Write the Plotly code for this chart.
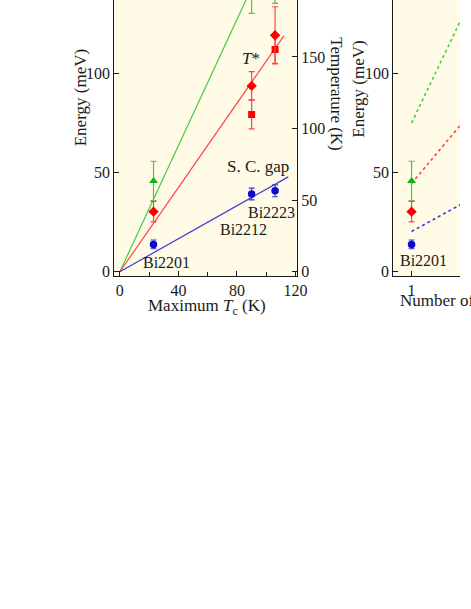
import plotly.graph_objects as go

# --- data ---
compounds = ["Bi2201", "Bi2212", "Bi2223"]
tc_max = [23, 90, 106]                      # K
sc_gap = [13.8, 39.2, 40.8]                 # meV
sc_gap_err = [2.2, 3.0, 3.0]
tstar_diamond = [30.3, 93.7, 119.2]
tstar_diamond_err = [5.2, 7.2, 14.4]
tstar_square_tc = [90, 106]
tstar_square = [79.3, 112.0]
tstar_square_err = [7.3, 7.0]
green_energy = [45.7, 140.3, 145.3]
green_err = [10.0, 10.0, 10.0]

# straight lines through the origin (meV per K)
fit_tc = [0, 115]
slope_green, slope_red, slope_blue = 1.59, 1.062, 0.416
red_end_tc = 112

# right panel: vs. number of layers
n_layers = [1]
n_line = [1, 3]
green_dotted = [75.0, 229.0]
red_dotted = [44.5, 132.5]
blue_dotted = [20.3, 60.7]

k_per_mev = 1.385  # temperature axis scale (K per meV)

GREEN_L, GREEN_M = "#44cc44", "#11b311"
RED_L, RED_M = "#ff4444", "#ff0000"
BLUE_L, BLUE_M = "#3a3ad6", "#0a0acc"
BG = "#fffbe6"
FONT = "Liberation Serif, Times New Roman, serif"
INK = "#1a1a1a"

W, H = 471, 609


def px_x(p):
    return p / W


def px_y(p):
    return 1 - p / H


fig = go.Figure()

# left panel: lines
fig.add_trace(go.Scatter(x=fit_tc, y=[t * slope_green for t in fit_tc], mode="lines",
                         line=dict(color=GREEN_L, width=1.2), xaxis="x", yaxis="y"))
fig.add_trace(go.Scatter(x=[0, red_end_tc], y=[0, red_end_tc * slope_red], mode="lines",
                         line=dict(color=RED_L, width=1.2), xaxis="x", yaxis="y"))
fig.add_trace(go.Scatter(x=fit_tc, y=[t * slope_blue for t in fit_tc], mode="lines",
                         line=dict(color=BLUE_L, width=1.2), xaxis="x", yaxis="y"))


def points(x, y, err, sym, size, col, ecol, xa="x", ya="y"):
    return go.Scatter(x=x, y=y, mode="markers", xaxis=xa, yaxis=ya,
                      marker=dict(symbol=sym, size=size, color=col, line=dict(width=0)),
                      error_y=dict(type="data", array=err, color=ecol, thickness=1.2, width=3))


fig.add_trace(points(tc_max, green_energy, green_err, "triangle-up", 8, GREEN_M, GREEN_L))
fig.add_trace(points(tstar_square_tc, tstar_square, tstar_square_err, "square", 7, RED_M, RED_L))
fig.add_trace(points(tc_max, tstar_diamond, tstar_diamond_err, "diamond", 8, RED_M, RED_L))
fig.add_trace(points(tc_max, sc_gap, sc_gap_err, "circle", 7.5, BLUE_M, BLUE_L))

# right panel: dotted lines and Bi2201 points
for vals, col in [(green_dotted, GREEN_L), (red_dotted, RED_L), (blue_dotted, BLUE_L)]:
    fig.add_trace(go.Scatter(x=n_line, y=vals, mode="lines", xaxis="x2", yaxis="y2",
                             line=dict(color=col, width=1.6, dash="dot")))
fig.add_trace(points(n_layers, green_energy[:1], green_err[:1], "triangle-up", 8, GREEN_M, GREEN_L, "x2", "y2"))
fig.add_trace(points(n_layers, tstar_diamond[:1], tstar_diamond_err[:1], "diamond", 8, RED_M, RED_L, "x2", "y2"))
fig.add_trace(points(n_layers, sc_gap[:1], sc_gap_err[:1], "circle", 7.5, BLUE_M, BLUE_L, "x2", "y2"))

axis_style = dict(showline=True, linecolor=INK, linewidth=1.2, ticks="inside", ticklen=5,
                  tickcolor=INK, tickwidth=1, showgrid=False, zeroline=False,
                  tickfont=dict(family=FONT, size=16, color=INK))

e_range = [-2, 137]
y_dom = [px_y(278), 1]

fig.update_layout(
    width=W, height=H, autosize=False, margin=dict(l=0, r=0, t=0, b=0),
    paper_bgcolor="white", plot_bgcolor=BG, showlegend=False,
    xaxis=dict(domain=[px_x(117), px_x(304)], range=[-3.8, 120.9], anchor="y",
               tickvals=[0, 40, 80, 120],
               minor=dict(tickvals=[20, 60, 100], ticks="inside", ticklen=4, tickcolor=INK),
               **axis_style),
    yaxis=dict(domain=y_dom, range=e_range, anchor="x", tickvals=[0, 50, 100], **axis_style),
    yaxis3=dict(overlaying="y", side="right", anchor="x",
                range=[e_range[0] * k_per_mev, e_range[1] * k_per_mev],
                tickvals=[0, 50, 100, 150], **axis_style),
    xaxis2=dict(domain=[px_x(402.7), 1], range=[0.75, 1.663], anchor="y2",
                tickvals=[1], **axis_style),
    yaxis2=dict(domain=y_dom, range=e_range, anchor="x2", tickvals=[0, 50, 100], **axis_style),
)

# invisible trace so the temperature axis is drawn
fig.add_trace(go.Scatter(x=[0], y=[0], mode="markers", marker=dict(opacity=0),
                         xaxis="x", yaxis="y3", hoverinfo="skip"))

tfont = dict(family=FONT, size=17, color=INK)
labels = [
    ("<i>T</i>*", 89.3, 107.5, "x", "y"),
    ("S. C. gap", 94.6, 53.0, "x", "y"),
    ("Bi2201", 32.0, 4.5, "x", "y"),
    ("Bi2212", 84.7, 21.5, "x", "y"),
    ("Bi2223", 103.7, 29.8, "x", "y"),
    ("Bi2201", 1.162, 5.5, "x2", "y2"),
]
for txt, xv, yv, xr, yr in labels:
    fig.add_annotation(text=txt, x=xv, y=yv, xref=xr, yref=yr, showarrow=False,
                       xanchor="center", yanchor="middle",
                       font=dict(family=FONT, size=17 if "gap" in txt or "T" in txt else 16, color=INK))

titles = [
    ("Energy (meV)", px_x(82), px_y(99), -90, "center"),
    ("Temperature (K)", px_x(345), px_y(95), 90, "center"),
    ("Energy (meV)", px_x(367), px_y(90), -90, "center"),
    ("Maximum <i>T</i><sub>c</sub> (K)", px_x(212), px_y(310), 0, "center"),
    ("Number of CuO<sub>2</sub> layers", px_x(408), px_y(305), 0, "left"),
]
for txt, xv, yv, ang, anc in titles:
    fig.add_annotation(text=txt, x=xv, y=yv, xref="paper", yref="paper", showarrow=False,
                       textangle=ang, xanchor=anc, yanchor="middle", font=tfont)

# no default body margin / scrollbar, so the figure sits exactly in the window
fig.write_html(
    "out.html",
    config={"displayModeBar": False, "responsive": False},
    post_script="document.body.style.margin='0';document.body.style.overflow='hidden';"
                "document.documentElement.style.overflow='hidden';",
)
